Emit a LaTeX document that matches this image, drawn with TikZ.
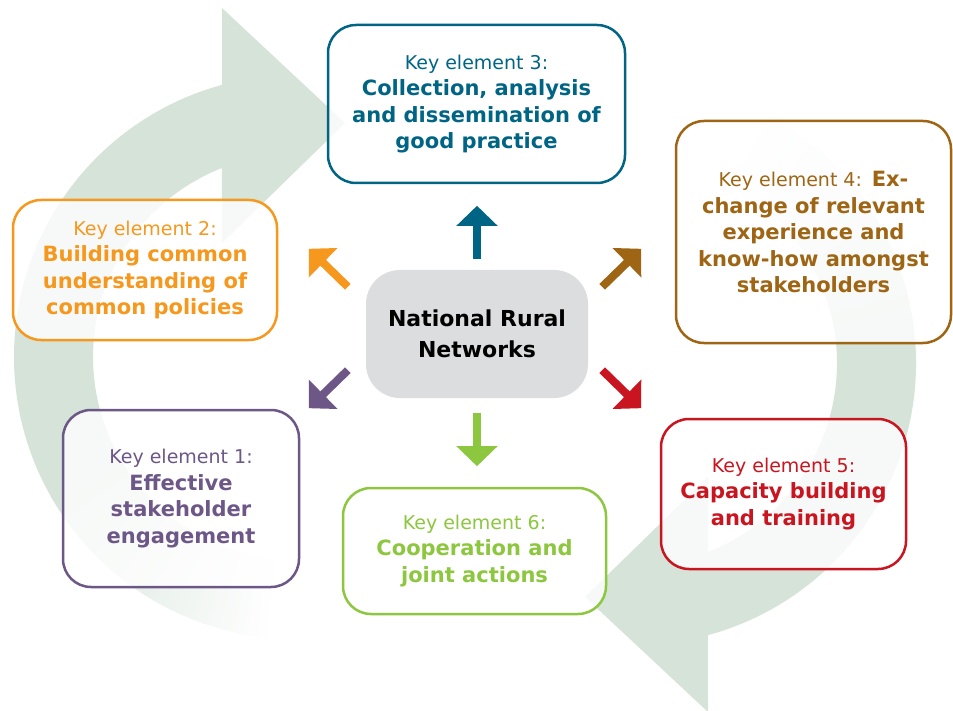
\documentclass[tikz,border=0pt]{standalone}
\usepackage{fontspec}
\setmainfont{DejaVu Sans}
\usepackage{xcolor}
\usepackage{tikz}
\usetikzlibrary{arrows.meta, positioning, calc}
\definecolor{bggreen}{RGB}{213,227,216}
\definecolor{colone}{RGB}{109,87,135}
\definecolor{coltwo}{RGB}{246,152,30}
\definecolor{colthree}{RGB}{0,101,133}
\definecolor{colfour}{RGB}{158,101,20}
\definecolor{colfive}{RGB}{200,21,31}
\definecolor{colsix}{RGB}{141,198,63}
\definecolor{nrngray}{RGB}{220,221,223}

\newcommand{\kelabel}[1]{{\fontsize{19}{26.5}\selectfont\mdseries Key element #1:}}

\tikzset{
    keybox/.style={draw=#1, text=#1, line width=2.5pt, rounded corners=28pt,
        fill=white, fill opacity=0.8, text opacity=1, align=center, inner sep=0pt,
        font=\fontsize{21}{26.5}\selectfont\bfseries},
    nrnbox/.style={fill=nrngray, rounded corners=34pt, align=center, inner sep=0pt,
        minimum width=222pt, minimum height=128pt, font=\fontsize{22}{31}\selectfont\bfseries},
    keyarrow/.style={draw=#1, line width=8pt, -{Triangle[width=40pt,length=20pt]}}
}

\begin{document}
\begin{tikzpicture}[x=1pt, y=-1pt]
    % Canvas
    \fill[white] (0,0) rectangle (953,711);
    \useasboundingbox (0,0) rectangle (953,711);

    % Background cycle
    \coordinate (lc) at (296,357);
    \coordinate (rc) at (634,363);
    \foreach \a in {95,...,149} {
        \pgfmathsetmacro{\pct}{(\a-95)/55*100}
        \pgfmathsetmacro{\b}{\a+1.5}
        \fill[bggreen!\pct!white] ([shift={(\a:203)}]lc) -- ([shift={(\a:282)}]lc)
            arc[start angle=\a, end angle=\b, radius=282] -- ([shift={(\b:203)}]lc)
            arc[start angle=\b, end angle=\a, radius=203] -- cycle;
    }
    \foreach \a in {-62,...,-11} {
        \pgfmathsetmacro{\pct}{(\a+62)/52*100}
        \pgfmathsetmacro{\b}{\a+1.5}
        \fill[bggreen!\pct!white] ([shift={(\a:203)}]rc) -- ([shift={(\a:282)}]rc)
            arc[start angle=\a, end angle=\b, radius=282] -- ([shift={(\b:203)}]rc)
            arc[start angle=\b, end angle=\a, radius=203] -- cycle;
    }
    \fill[bggreen] ([shift={(150:282)}]lc) arc[start angle=150, end angle=254.8, radius=282]
        -- (222,8) -- (345,123) -- (222,243)
        -- ([shift={(248.6:203)}]lc) arc[start angle=248.6, end angle=150, radius=203] -- cycle;
    \fill[bggreen] ([shift={(-10:282)}]rc) arc[start angle=-10, end angle=74.8, radius=282]
        -- (708,712) -- (585,597) -- (708,477)
        -- ([shift={(68.6:203)}]rc) arc[start angle=68.6, end angle=-10, radius=203] -- cycle;

    % Centre
    \node[nrnbox] (nrn) at (477,334) {National Rural\\ Networks};

    % Key elements
    \node[keybox=colthree, minimum width=297pt, minimum height=158pt] (ke3) at (476.5,104)
        {\kelabel{3}\\ Collection, analysis\\ and dissemination of\\ good practice};
    \node[keybox=colfour, minimum width=275pt, minimum height=222pt] (ke4) at (813.5,232)
        {\kelabel{4} Ex-\\ change of relevant\\ experience and\\ know-how amongst\\ stakeholders};
    \node[keybox=coltwo, minimum width=264pt, minimum height=140pt] (ke2) at (145,270)
        {\kelabel{2}\\ Building common\\ understanding of\\ common policies};
    \node[keybox=colone, minimum width=236pt, minimum height=177pt] (ke1) at (181,498.5)
        {\kelabel{1}\\ Effective\\ stakeholder\\ engagement};
    \node[keybox=colsix, minimum width=263pt, minimum height=126pt] (ke6) at (474.5,551)
        {\kelabel{6}\\ Cooperation and\\ joint actions};
    \node[keybox=colfive, minimum width=245pt, minimum height=150pt] (ke5) at (783.5,494)
        {\kelabel{5}\\ Capacity building\\ and training};

    % Arrows out of the centre
    \draw[keyarrow=colthree] ([yshift=11pt]nrn.north) -- ++(0,-53);
    \draw[keyarrow=colsix] ([yshift=-15pt]nrn.south) -- ++(0,53);
    \draw[keyarrow=coltwo] ([shift={(-18,17)}]nrn.north west) -- ++(-39,-38);
    \draw[keyarrow=colfour] ([shift={(14,17)}]nrn.north east) -- ++(39,-38);
    \draw[keyarrow=colone] ([shift={(-18,-28)}]nrn.south west) -- ++(-39,38);
    \draw[keyarrow=colfive] ([shift={(14,-28)}]nrn.south east) -- ++(39,38);
\end{tikzpicture}
\end{document}
